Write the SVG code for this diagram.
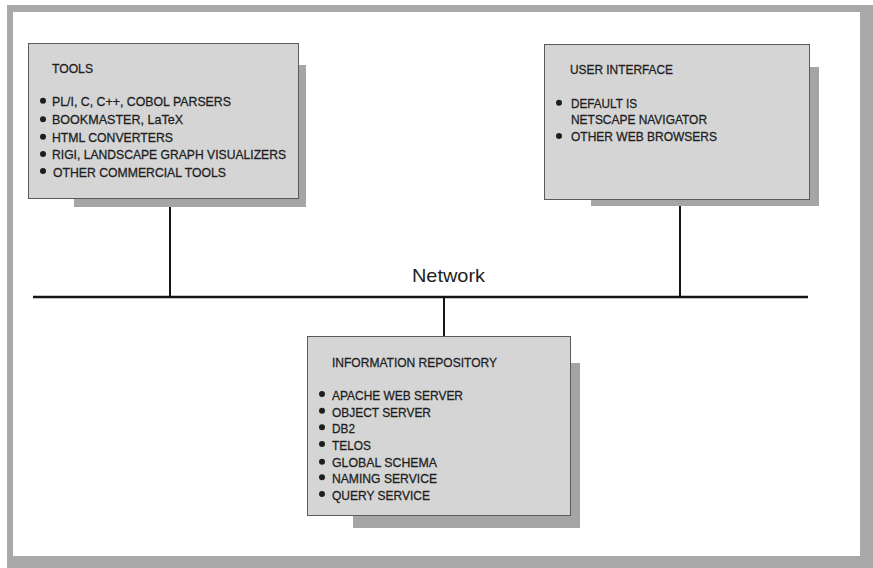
<svg xmlns="http://www.w3.org/2000/svg" width="873" height="568" viewBox="0 0 873 568">
  <style>
    .frame { fill: #a9a9a9; }
    .panel { fill: #ffffff; }
    .shadow { fill: #a5a5a5; }
    .box { fill: #d5d5d5; stroke: #5a5a5a; stroke-width: 1; }
    .t { font-family: "Liberation Sans", Arial, sans-serif; font-size: 13.5px; fill: #1e1e1e; stroke: #1e1e1e; stroke-width: 0.3; }
    .net { font-family: "Liberation Sans", Arial, sans-serif; font-size: 19px; fill: #1e1e1e; }
    .dot { fill: #1e1e1e; }
    .wire { stroke: #151515; fill: none; }
  </style>

  <!-- outer frame -->
  <rect class="frame" x="7" y="5" width="866" height="563"/>
  <rect class="panel" x="13" y="12" width="847" height="544"/>

  <!-- connectors: network bus and drops -->
  <g id="connectors">
    <line class="wire" x1="33" y1="297" x2="808" y2="297" stroke-width="2.5"/>
    <line class="wire" x1="170" y1="198" x2="170" y2="297" stroke-width="2"/>
    <line class="wire" x1="680" y1="199" x2="680" y2="297" stroke-width="2"/>
    <line class="wire" x1="444" y1="297" x2="444" y2="336" stroke-width="2"/>
    <text class="net" x="412" y="282" textLength="73" lengthAdjust="spacingAndGlyphs">Network</text>
  </g>

  <!-- tools node -->
  <g id="tools">
    <rect class="shadow" x="74" y="65" width="232" height="142"/>
    <rect class="box" x="28.5" y="43.5" width="270" height="155"/>
    <text class="t" x="52" y="72.7" textLength="41" lengthAdjust="spacingAndGlyphs">TOOLS</text>
    <circle class="dot" cx="43" cy="100.7" r="3"/>
    <circle class="dot" cx="43" cy="119.3" r="3"/>
    <circle class="dot" cx="43" cy="136.7" r="3"/>
    <circle class="dot" cx="43" cy="154" r="3"/>
    <circle class="dot" cx="43" cy="171" r="3"/>
    <text class="t" x="52" y="106" textLength="179" lengthAdjust="spacingAndGlyphs">PL/I, C, C++, COBOL PARSERS</text>
    <text class="t" x="52" y="124.3" textLength="131" lengthAdjust="spacingAndGlyphs">BOOKMASTER, LaTeX</text>
    <text class="t" x="52" y="141.7" textLength="121" lengthAdjust="spacingAndGlyphs">HTML CONVERTERS</text>
    <text class="t" x="52" y="159" textLength="234" lengthAdjust="spacingAndGlyphs">RIGI, LANDSCAPE GRAPH VISUALIZERS</text>
    <text class="t" x="53" y="176.5" textLength="173" lengthAdjust="spacingAndGlyphs">OTHER COMMERCIAL TOOLS</text>
  </g>

  <!-- user interface node -->
  <g id="user-interface">
    <rect class="shadow" x="591" y="67" width="228" height="139"/>
    <rect class="box" x="544.5" y="44.5" width="265" height="155"/>
    <text class="t" x="570" y="74" textLength="103" lengthAdjust="spacingAndGlyphs">USER INTERFACE</text>
    <circle class="dot" cx="559" cy="102.7" r="3"/>
    <circle class="dot" cx="559" cy="136" r="3"/>
    <text class="t" x="571" y="107.7" textLength="66" lengthAdjust="spacingAndGlyphs">DEFAULT IS</text>
    <text class="t" x="571" y="124" textLength="136" lengthAdjust="spacingAndGlyphs">NETSCAPE NAVIGATOR</text>
    <text class="t" x="571" y="141" textLength="146" lengthAdjust="spacingAndGlyphs">OTHER WEB BROWSERS</text>
  </g>

  <!-- information repository node -->
  <g id="information-repository">
    <rect class="shadow" x="353" y="363" width="227" height="165"/>
    <rect class="box" x="307.5" y="336.5" width="263" height="179"/>
    <text class="t" x="332" y="366.7" textLength="165" lengthAdjust="spacingAndGlyphs">INFORMATION REPOSITORY</text>
    <circle class="dot" cx="322" cy="394" r="3"/>
    <circle class="dot" cx="322" cy="410.7" r="3"/>
    <circle class="dot" cx="322" cy="427.3" r="3"/>
    <circle class="dot" cx="322" cy="444" r="3"/>
    <circle class="dot" cx="322" cy="461.7" r="3"/>
    <circle class="dot" cx="322" cy="477.3" r="3"/>
    <circle class="dot" cx="322" cy="494" r="3"/>
    <text class="t" x="332" y="400" textLength="131" lengthAdjust="spacingAndGlyphs">APACHE WEB SERVER</text>
    <text class="t" x="332" y="416.7" textLength="99" lengthAdjust="spacingAndGlyphs">OBJECT SERVER</text>
    <text class="t" x="332" y="432.7" textLength="23" lengthAdjust="spacingAndGlyphs">DB2</text>
    <text class="t" x="332" y="450" textLength="39" lengthAdjust="spacingAndGlyphs">TELOS</text>
    <text class="t" x="332" y="466.7" textLength="105" lengthAdjust="spacingAndGlyphs">GLOBAL SCHEMA</text>
    <text class="t" x="332" y="483.3" textLength="105" lengthAdjust="spacingAndGlyphs">NAMING SERVICE</text>
    <text class="t" x="332" y="500" textLength="98" lengthAdjust="spacingAndGlyphs">QUERY SERVICE</text>
  </g>
</svg>
